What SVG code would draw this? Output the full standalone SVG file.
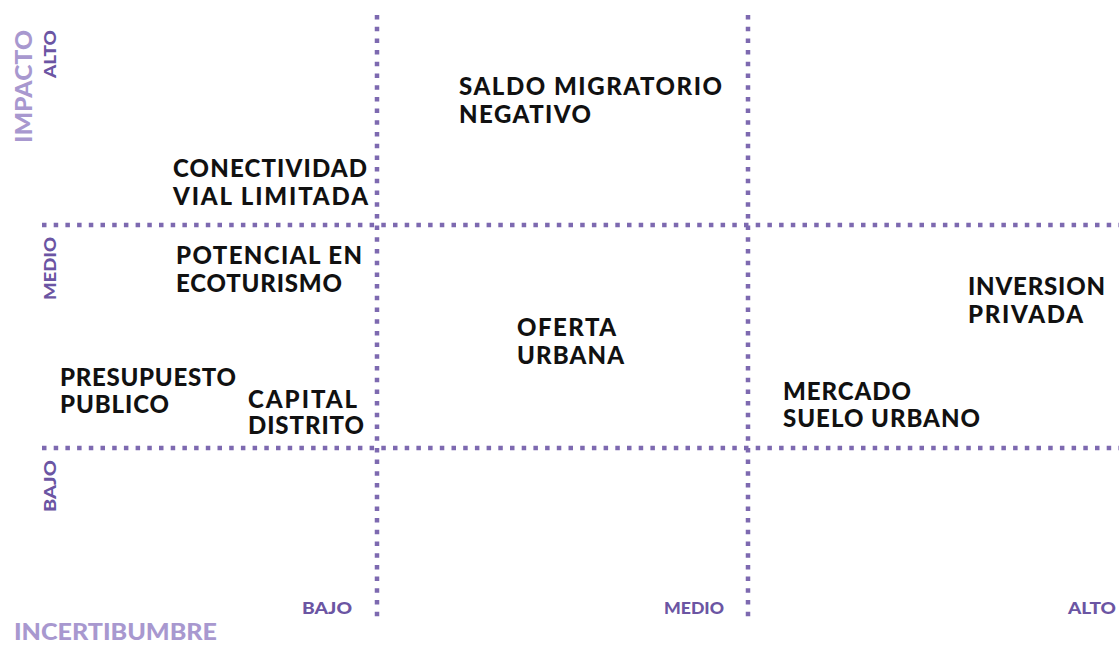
<svg xmlns="http://www.w3.org/2000/svg" width="1119" height="645" viewBox="0 0 1119 645">
<style>
.dot{stroke:#7d69b0;stroke-width:4.5;stroke-dasharray:4.5 7.2;fill:none}
.lbl{font-family:Lato,"Liberation Sans",sans-serif;font-weight:900;font-size:24px;fill:#111}
.ax{font-family:Lato,"Liberation Sans",sans-serif;font-weight:900;font-size:16px;fill:#6b55a3}
.axt{font-family:Lato,"Liberation Sans",sans-serif;font-weight:900;font-size:22px;fill:#a898cf}
</style>
<rect width="1119" height="645" fill="#fff"/>
<g id="grid">
<line class="dot" x1="377" y1="15" x2="377" y2="622"/>
<line class="dot" x1="748" y1="15" x2="748" y2="622"/>
<line class="dot" x1="42" y1="225" x2="1119" y2="225"/>
<line class="dot" x1="42" y1="448" x2="1119" y2="448"/>
</g>
<g id="axes">
<text class="axt" x="14" y="640" textLength="203" lengthAdjust="spacingAndGlyphs">INCERTIBUMBRE</text>
<text class="axt" transform="translate(32,143) rotate(-90)" textLength="113" lengthAdjust="spacingAndGlyphs">IMPACTO</text>
<text class="ax" x="302" y="614" textLength="50" lengthAdjust="spacingAndGlyphs">BAJO</text>
<text class="ax" x="664" y="614" textLength="60" lengthAdjust="spacingAndGlyphs">MEDIO</text>
<text class="ax" x="1068" y="614" textLength="48" lengthAdjust="spacingAndGlyphs">ALTO</text>
<text class="ax" transform="translate(56,78) rotate(-90)" textLength="48" lengthAdjust="spacingAndGlyphs">ALTO</text>
<text class="ax" transform="translate(56,300) rotate(-90)" textLength="63" lengthAdjust="spacingAndGlyphs">MEDIO</text>
<text class="ax" transform="translate(56,512) rotate(-90)" textLength="52" lengthAdjust="spacingAndGlyphs">BAJO</text>
</g>
<g id="saldo"><text class="lbl" x="459" y="95" textLength="263">SALDO MIGRATORIO</text><text class="lbl" x="459" y="123" textLength="132">NEGATIVO</text></g>
<g id="conectividad"><text class="lbl" x="173" y="177" textLength="194">CONECTIVIDAD</text><text class="lbl" x="173" y="205" textLength="195">VIAL LIMITADA</text></g>
<g id="potencial"><text class="lbl" x="176" y="264" textLength="186">POTENCIAL EN</text><text class="lbl" x="176" y="292" textLength="166">ECOTURISMO</text></g>
<g id="presupuesto"><text class="lbl" x="60" y="386" textLength="176">PRESUPUESTO</text><text class="lbl" x="60" y="413" textLength="109">PUBLICO</text></g>
<g id="capital"><text class="lbl" x="248" y="408" textLength="109">CAPITAL</text><text class="lbl" x="248" y="434" textLength="116">DISTRITO</text></g>
<g id="oferta"><text class="lbl" x="517" y="336" textLength="99">OFERTA</text><text class="lbl" x="517" y="364" textLength="107">URBANA</text></g>
<g id="inversion"><text class="lbl" x="968" y="295" textLength="137">INVERSION</text><text class="lbl" x="968" y="323" textLength="115">PRIVADA</text></g>
<g id="mercado"><text class="lbl" x="783" y="400" textLength="128">MERCADO</text><text class="lbl" x="783" y="427" textLength="197">SUELO URBANO</text></g>
</svg>
